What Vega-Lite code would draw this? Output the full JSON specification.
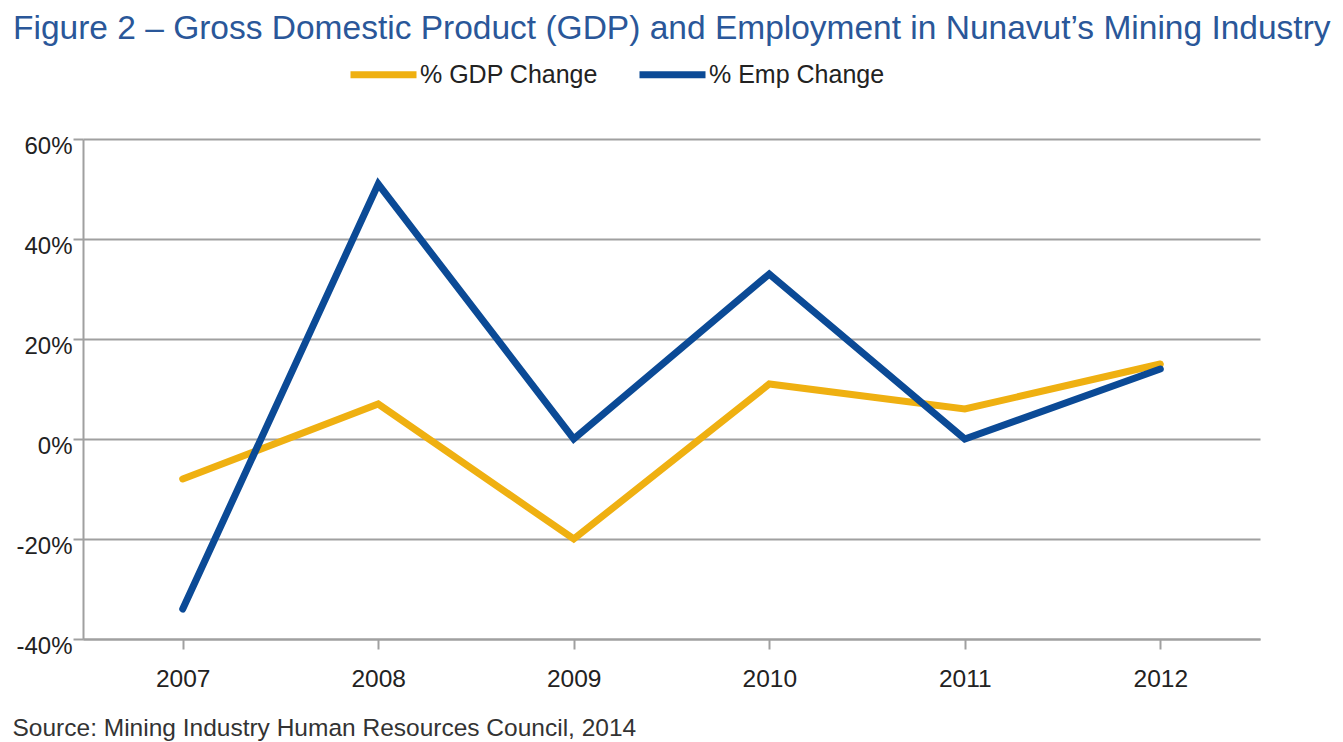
{
  "$schema": "https://vega.github.io/schema/vega-lite/v6.json",
  "width": 1177,
  "height": 500,
  "autosize": "none",
  "padding": {"left": 83, "top": 139, "right": 83, "bottom": 103},
  "background": "white",
  "config": {"view": {"stroke": null}},
  "title": {
    "text": "Figure 2 – Gross Domestic Product (GDP) and Employment in Nunavut’s Mining Industry",
    "anchor": "start",
    "frame": "group",
    "font": "Liberation Sans",
    "fontSize": 33.5,
    "fontWeight": "normal",
    "color": "#2A5799",
    "dx": -70,
    "offset": -8
  },
  "data": {
    "values": [
      {"year": "2007", "series": "% GDP Change", "value": -8},
      {"year": "2008", "series": "% GDP Change", "value": 7},
      {"year": "2009", "series": "% GDP Change", "value": -20},
      {"year": "2010", "series": "% GDP Change", "value": 11},
      {"year": "2011", "series": "% GDP Change", "value": 6},
      {"year": "2012", "series": "% GDP Change", "value": 15},
      {"year": "2007", "series": "% Emp Change", "value": -34},
      {"year": "2008", "series": "% Emp Change", "value": 51},
      {"year": "2009", "series": "% Emp Change", "value": 0},
      {"year": "2010", "series": "% Emp Change", "value": 33},
      {"year": "2011", "series": "% Emp Change", "value": 0},
      {"year": "2012", "series": "% Emp Change", "value": 14}
    ]
  },
  "mark": {"type": "line", "strokeWidth": 7, "strokeCap": "round", "strokeJoin": "miter"},
  "encoding": {
    "x": {
      "field": "year",
      "type": "ordinal",
      "scale": {"type": "point", "padding": 0.51},
      "axis": {
        "title": "Source: Mining Industry Human Resources Council, 2014",
        "titleFont": "Liberation Sans",
        "titleFontSize": 24.5,
        "titleFontWeight": "normal",
        "titleColor": "#333333",
        "titleAnchor": "start",
        "titleAlign": "left",
        "titleBaseline": "alphabetic",
        "titleX": -71,
        "titleY": 96,
        "labelAngle": 0,
        "labelFont": "Liberation Sans",
        "labelFontSize": 24.5,
        "labelColor": "#222222",
        "labelPadding": 18,
        "tickSize": 10,
        "tickColor": "#A0A0A0",
        "tickWidth": 2,
        "domainColor": "#A0A0A0",
        "domainWidth": 2,
        "grid": false
      }
    },
    "y": {
      "field": "value",
      "type": "quantitative",
      "scale": {"domain": [-40, 60], "nice": false},
      "axis": {
        "title": null,
        "values": [-40, -20, 0, 20, 40, 60],
        "labelExpr": "datum.value + '%'",
        "labelFont": "Liberation Sans",
        "labelFontSize": 24,
        "labelColor": "#222222",
        "labelPadding": 1,
        "labelOffset": 7,
        "tickSize": 10,
        "tickColor": "#A0A0A0",
        "tickWidth": 2,
        "domainColor": "#A0A0A0",
        "domainWidth": 2,
        "grid": true,
        "gridColor": "#A0A0A0",
        "gridWidth": 2
      }
    },
    "color": {
      "field": "series",
      "type": "nominal",
      "scale": {"domain": ["% GDP Change", "% Emp Change"], "range": ["#EFB011", "#0B4A96"]},
      "legend": {
        "title": null,
        "orient": "none",
        "direction": "horizontal",
        "legendX": 264,
        "legendY": -101,
        "symbolType": "stroke",
        "symbolSize": 4356,
        "symbolStrokeWidth": 7,
        "labelFont": "Liberation Sans",
        "labelFontSize": 25,
        "labelColor": "#222222",
        "labelOffset": 0,
        "labelLimit": 400,
        "columnPadding": 27
      }
    }
  }
}
